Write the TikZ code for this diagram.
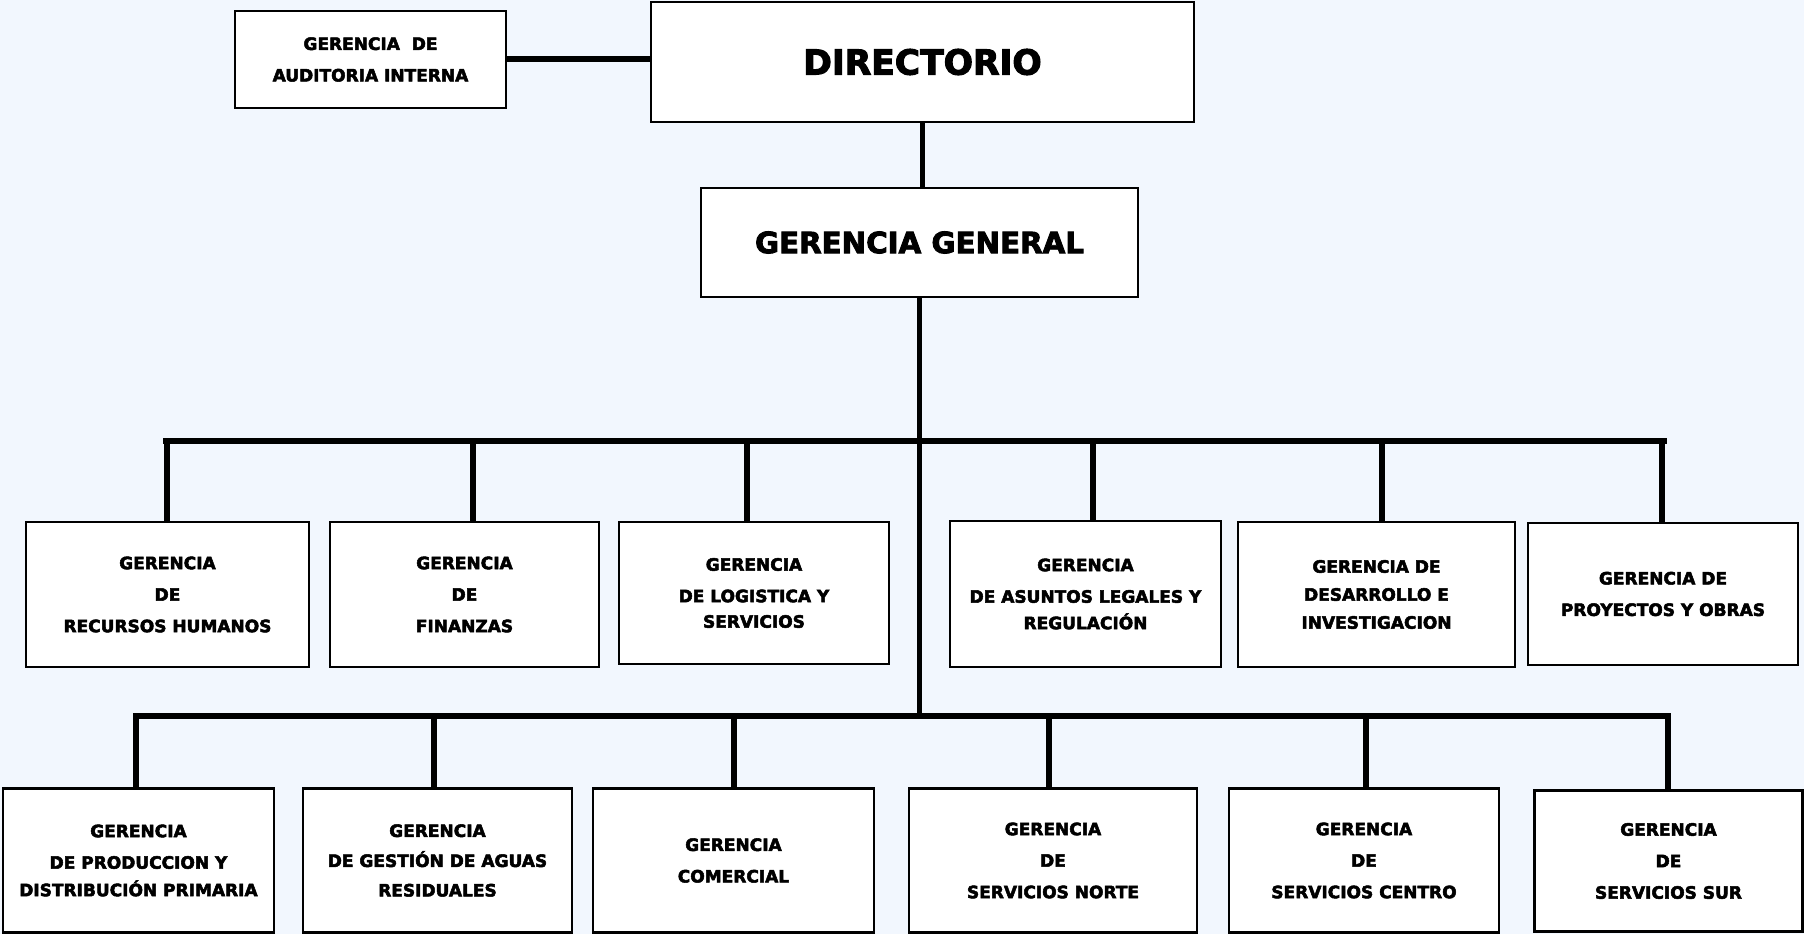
\documentclass[tikz,border=0pt]{standalone}
\usepackage{fontspec}
\setmainfont{DejaVu Sans}[BoldFeatures={FakeBold=3}]
\definecolor{bgc}{RGB}{242,247,254}
\tikzset{
  box/.style={draw=black, line width=2.8pt, fill=white, align=center, inner sep=0pt,
    font=\fontsize{17}{31.5}\selectfont\bfseries},
  bus/.style={line width=6pt},
  drop/.style={line width=6pt}
}
\begin{document}
\begin{tikzpicture}[x=1pt,y=-1pt]
\fill[bgc] (0,0) rectangle (1804,934);
\useasboundingbox (0,0) rectangle (1804,934);

% top
\node[box, minimum width=271, minimum height=97] (aud) at (370.5,59.5) {GERENCIA\ \ DE\\AUDITORIA INTERNA};
\node[box, minimum width=543, minimum height=120, font=\fontsize{34.5}{40}\selectfont\bfseries] (dir) at (922.5,62) {DIRECTORIO};
\node[box, minimum width=437, minimum height=109, font=\fontsize{29.3}{34}\selectfont\bfseries] (gg) at (919.5,242.5) {GERENCIA GENERAL};

% row 1
\node[box, minimum width=283, minimum height=145] (rrhh) at (167.5,594.5) {GERENCIA\\DE\\RECURSOS HUMANOS};
\node[box, minimum width=269, minimum height=145] (fin) at (464.5,594.5) {GERENCIA\\DE\\FINANZAS};
\node[box, minimum width=270, minimum height=142] (log) at (754,593) {GERENCIA\\DE LOGISTICA Y\\[-6pt]SERVICIOS};
\node[box, minimum width=271, minimum height=146] (leg) at (1085.5,594) {GERENCIA\\DE ASUNTOS LEGALES Y\\[-5pt]REGULACIÓN};
\node[box, minimum width=277, minimum height=145] (des) at (1376.5,594.5) {GERENCIA DE\\[-3.5pt]DESARROLLO E\\[-3.5pt]INVESTIGACION};
\node[box, minimum width=270, minimum height=142] (pro) at (1663,594) {GERENCIA DE\\PROYECTOS Y OBRAS};

% row 2
\node[box, minimum width=271, minimum height=144] (prod) at (138.5,860.5) {GERENCIA\\DE PRODUCCION Y\\[-4pt]DISTRIBUCIÓN PRIMARIA};
\node[box, minimum width=269, minimum height=144] (agu) at (437.5,860.5) {GERENCIA\\[-1.5pt]DE GESTIÓN DE AGUAS\\[-2pt]RESIDUALES};
\node[box, minimum width=281, minimum height=144] (com) at (733.5,860.5) {GERENCIA\\COMERCIAL};
\node[box, minimum width=288, minimum height=144] (nor) at (1053,860.5) {GERENCIA\\DE\\SERVICIOS NORTE};
\node[box, minimum width=270, minimum height=144] (cen) at (1364,860.5) {GERENCIA\\DE\\SERVICIOS CENTRO};
\node[box, minimum width=268, minimum height=141] (sur) at (1668.5,861) {GERENCIA\\DE\\SERVICIOS SUR};

% bus coordinates
\coordinate (b1L) at (166,441);
\coordinate (b1R) at (1664,441);
\coordinate (b2L) at (136,716);
\coordinate (b2R) at (1668,716);

% connectors top
\draw[line width=6pt] (aud.east) -- (aud.east -| dir.west);
\draw[line width=5pt] (dir.south) -- (dir.south |- gg.north);
\draw[line width=5pt] (gg.south) -- (gg.south |- b2L);

% bus 1
\draw[bus] ([xshift=-3pt]b1L) -- ([xshift=3pt]b1R);
\foreach \n/\x in {rrhh/167, fin/473, log/747, leg/1093, des/1382, pro/1662}{
  \coordinate (t\n) at (\x,441);
  \draw[drop] (t\n) -- (t\n |- \n.north);
}
% bus 2
\draw[bus] ([xshift=-3pt]b2L) -- ([xshift=3pt]b2R);
\foreach \n/\x in {prod/136, agu/434, com/734, nor/1049, cen/1366, sur/1668}{
  \coordinate (t\n) at (\x,716);
  \draw[drop] (t\n) -- (t\n |- \n.north);
}
\end{tikzpicture}
\end{document}
